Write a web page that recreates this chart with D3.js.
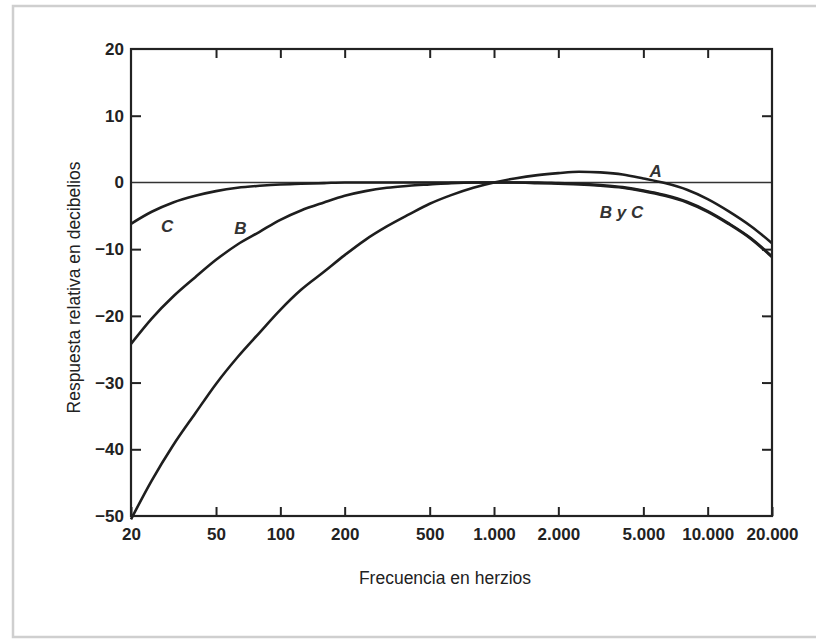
<!DOCTYPE html>
<html>
<head>
<meta charset="utf-8">
<script src="https://cdn.jsdelivr.net/npm/d3@7"></script>
<style>
  body { margin: 0; background: #fff; }
  svg text { font-family: "Liberation Sans", Arial, sans-serif; }
</style>
</head>
<body>
<div id="chart"></div>
<script>
// frecuencias de tercio de octava (Hz)
const freqs = [20, 25, 31.5, 40, 50, 63, 80, 100, 125, 160, 200, 250, 315, 400, 500, 630, 800,
  1000, 1250, 1600, 2000, 2500, 3150, 4000, 5000, 6300, 8000, 10000, 12500, 16000, 20000];

const curveA = [-50.5, -44.7, -39.4, -34.6, -30.2, -26.2, -22.5, -19.1, -16.1, -13.4, -10.9, -8.6, -6.6, -4.8, -3.2, -1.9, -0.8,
  0, 0.6, 1.1, 1.4, 1.6, 1.5, 1.2, 0.6, -0.1, -1.1, -2.5, -4.3, -6.6, -9.1];
const curveB = [-24.2, -20.4, -17.1, -14.2, -11.6, -9.3, -7.4, -5.6, -4.2, -3.0, -2.0, -1.3, -0.8, -0.5, -0.3, -0.1, 0,
  0, 0, 0, -0.1, -0.2, -0.4, -0.7, -1.2, -1.9, -2.9, -4.3, -6.1, -8.4, -11.1];
const curveC = [-6.2, -4.4, -3.0, -2.0, -1.3, -0.8, -0.5, -0.3, -0.2, -0.1, 0, 0, 0, 0, 0, 0, 0,
  0, 0, -0.1, -0.2, -0.3, -0.5, -0.8, -1.3, -2.0, -3.0, -4.4, -6.2, -8.5, -11.2];

const xTicks = [20, 50, 100, 200, 500, 1000, 2000, 5000, 10000, 20000];
const yTicks = [20, 10, 0, -10, -20, -30, -40, -50];

// etiquetas de las curvas: [texto, frecuencia, dB]
const curveLabels = [["C", 29.5, -6.6], ["B", 65, -6.8], ["A", 5700, 1.7], ["B y C", 3950, -4.5]];

const width = 816, height = 641;
const margin = { top: 49, right: 44, bottom: 125, left: 131 };

const svg = d3.select('#chart').append('svg')
  .attr('width', width)
  .attr('height', height);

// marco de la tarjeta
svg.append('rect')
  .attr('x', 13).attr('y', 6)
  .attr('width', 830).attr('height', 631)
  .attr('fill', 'none')
  .attr('stroke', '#cfcfcf')
  .attr('stroke-width', 2.5);

const x = d3.scaleLog()
  .domain([20, 20000])
  .range([margin.left, width - margin.right]);

const y = d3.scaleLinear()
  .domain([-50, 20])
  .range([height - margin.bottom, margin.top]);

const es = d3.formatLocale({ decimal: ",", thousands: ".", grouping: [3], currency: ["", ""], minus: "\u2212" });
const fmt = es.format(",");

// ejes
svg.append('g')
  .attr('transform', `translate(0,${y(-50)})`)
  .call(d3.axisBottom(x).tickValues(xTicks).tickFormat(fmt).tickSizeInner(-9).tickSizeOuter(0).tickPadding(12))
  .call(g => g.select('.domain').remove())
  .call(g => g.selectAll('.tick text').attr('font-size', 17).attr('font-weight', 'bold').attr('fill', '#222'));

svg.append('g')
  .attr('transform', `translate(0,${y(20)})`)
  .call(d3.axisTop(x).tickValues(xTicks.slice(1, -1)).tickFormat('').tickSizeInner(-9).tickSizeOuter(0))
  .call(g => g.select('.domain').remove());

svg.append('g')
  .attr('transform', `translate(${x(20)},0)`)
  .call(d3.axisLeft(y).tickValues(yTicks).tickFormat(fmt).tickSizeInner(0).tickSizeOuter(0).tickPadding(7))
  .call(g => g.select('.domain').remove())
  .call(g => g.selectAll('.tick text').attr('font-size', 17).attr('font-weight', 'bold').attr('fill', '#222'));

svg.append('g')
  .attr('transform', `translate(${x(20)},0)`)
  .call(d3.axisRight(y).tickValues(yTicks.slice(1, -1).filter(d => d !== 0)).tickFormat('').tickSizeInner(10).tickSizeOuter(0))
  .call(g => g.select('.domain').remove());

svg.append('g')
  .attr('transform', `translate(${x(20000)},0)`)
  .call(d3.axisLeft(y).tickValues(yTicks.slice(1, -1).filter(d => d !== 0)).tickFormat('').tickSizeInner(10).tickSizeOuter(0))
  .call(g => g.select('.domain').remove());

svg.selectAll('.tick line').attr('stroke', '#222').attr('stroke-width', 2);

// línea de 0 dB
svg.append('line')
  .attr('x1', x(20)).attr('x2', x(20000))
  .attr('y1', y(0)).attr('y2', y(0))
  .attr('stroke', '#333').attr('stroke-width', 1.6);

// curvas
const line = d3.line()
  .x(d => x(d[0]))
  .y(d => y(d[1]))
  .curve(d3.curveMonotoneX);

[curveA, curveB, curveC].forEach(vals => {
  svg.append('path')
    .datum(freqs.map((f, i) => [f, vals[i]]))
    .attr('d', line)
    .attr('fill', 'none')
    .attr('stroke', '#1e1e1e')
    .attr('stroke-width', 2.6);
});

// marco del gráfico
svg.append('rect')
  .attr('x', x(20)).attr('y', y(20))
  .attr('width', x(20000) - x(20))
  .attr('height', y(-50) - y(20))
  .attr('fill', 'none')
  .attr('stroke', '#222')
  .attr('stroke-width', 2.2);

svg.selectAll('text.lbl')
  .data(curveLabels)
  .enter().append('text')
  .attr('class', 'lbl')
  .attr('x', d => x(d[1]))
  .attr('y', d => y(d[2]))
  .attr('text-anchor', 'middle')
  .attr('dy', '0.35em')
  .attr('font-size', 17)
  .attr('font-weight', 'bold')
  .attr('font-style', 'italic')
  .attr('fill', '#333')
  .text(d => d[0]);

// títulos
svg.append('text')
  .attr('x', 445).attr('y', 584)
  .attr('text-anchor', 'middle')
  .attr('font-size', 17.5)
  .attr('fill', '#222')
  .text('Frecuencia en herzios');

svg.append('text')
  .attr('transform', `translate(80,${(y(20) + y(-50)) / 2 + 5}) rotate(-90)`)
  .attr('text-anchor', 'middle')
  .attr('font-size', 17.5)
  .attr('fill', '#222')
  .text('Respuesta relativa en decibelios');
</script>
</body>
</html>
